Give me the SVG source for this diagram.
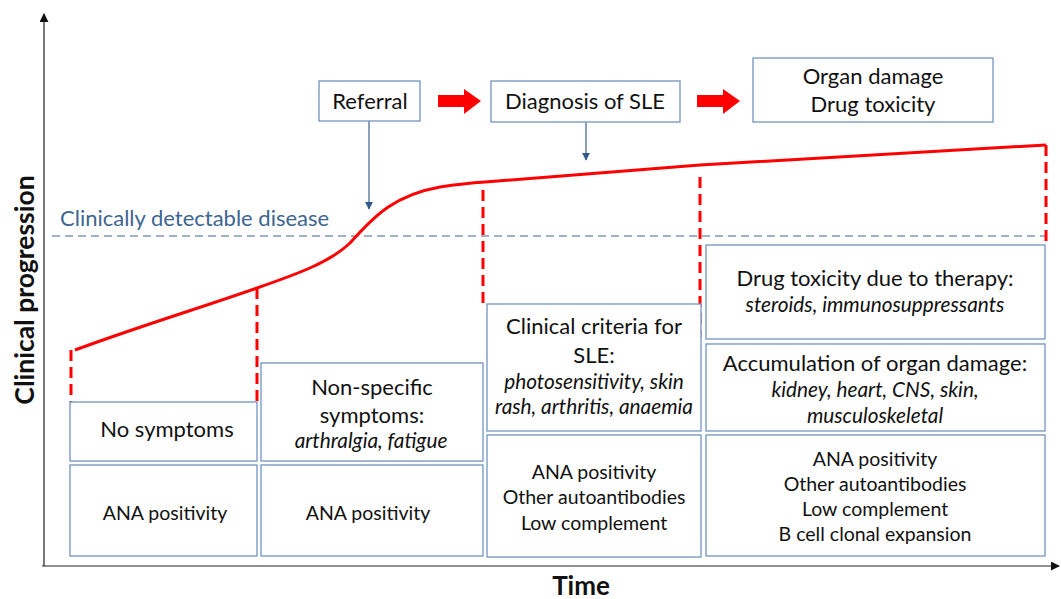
<svg xmlns="http://www.w3.org/2000/svg" width="1061" height="599" viewBox="0 0 1061 599">
<style>
.box{fill:#fff;stroke:#7294bf;stroke-width:1.3}
.t{font-family:Lato,"Liberation Sans",sans-serif;fill:#111;text-anchor:middle}
.big{font-size:22px}
.sm{font-size:19.5px}
.it{font-style:italic;font-size:20.8px}
.rd{stroke:#ff0000;stroke-width:3;stroke-dasharray:11,6;fill:none}
.ptr{stroke:#3c6391;stroke-width:1.2;fill:none;marker-end:url(#ah)}
</style>
<defs>
<marker id="ah" viewBox="0 0 10 10" refX="9" refY="5" markerWidth="8" markerHeight="8" markerUnits="userSpaceOnUse" orient="auto"><path d="M0,0 L10,5 L0,10 z" fill="#2f5a88"/></marker>
<marker id="axh" viewBox="0 0 10 10" refX="9" refY="5" markerWidth="9" markerHeight="9" markerUnits="userSpaceOnUse" orient="auto"><path d="M0,0 L10,5 L0,10 z" fill="#111"/></marker>
</defs>
<rect width="1061" height="599" fill="#fff"/>
<g id="axes">
<line x1="44" y1="566" x2="44" y2="14" stroke="#222" stroke-width="1.2" marker-end="url(#axh)"/>
<line x1="42" y1="566" x2="1059" y2="566" stroke="#222" stroke-width="1.2" marker-end="url(#axh)"/>
<text class="t" transform="translate(34,290) rotate(-90)" style="font-size:26.5px;font-weight:bold">Clinical progression</text>
<text class="t" x="581" y="595" style="font-size:26px;font-weight:bold">Time</text>
</g>
<g id="threshold">
<line x1="52" y1="236" x2="1046" y2="236" stroke="#44648c" stroke-width="1.2" stroke-dasharray="8,5"/>
<text x="60" y="226" style="font-family:Lato,'Liberation Sans',sans-serif;font-size:22px;fill:#3d6591">Clinically detectable disease</text>
</g>
<g id="connectors">
<path d="M75,350 C140,326 200,308 257,288 C300,273 330,262 350,243 C375,215 395,195 440,187 C460,184 470,183 485,182 L700,165 L1046,145" fill="none" stroke="#ff0000" stroke-width="3"/>
<line class="rd" x1="71" y1="350" x2="71" y2="402"/>
<line class="rd" x1="257" y1="288" x2="257" y2="402"/>
<line class="rd" x1="483" y1="190" x2="483" y2="304"/>
<line class="rd" x1="700" y1="177" x2="700" y2="337"/>
<line class="rd" x1="1046" y1="145" x2="1046" y2="242"/>
<line class="ptr" x1="369" y1="121" x2="369" y2="209"/>
<line class="ptr" x1="586" y1="122" x2="586" y2="160"/>
<path d="M438,95 L464,95 L464,89 L481,101 L464,114 L464,107 L438,107 z" fill="#ff0000"/>
<path d="M697,95 L723,95 L723,89 L740,101 L723,114 L723,107 L697,107 z" fill="#ff0000"/>
</g>
<g id="referral">
<rect class="box" x="319" y="81" width="101" height="40"/>
<text class="t big" x="370" y="109">Referral</text>
</g>
<g id="diagnosis">
<rect class="box" x="491" y="81" width="189" height="41"/>
<text class="t big" x="585" y="109">Diagnosis of SLE</text>
</g>
<g id="organ-damage">
<rect class="box" x="753" y="58" width="240" height="64"/>
<text class="t big" x="873" y="84">Organ damage</text>
<text class="t big" x="873" y="112">Drug toxicity</text>
</g>
<g id="no-symptoms">
<rect class="box" x="70" y="402" width="187" height="59"/>
<text class="t big" x="167" y="437">No symptoms</text>
</g>
<g id="ana1">
<rect class="box" x="70" y="465" width="187" height="91"/>
<text class="t sm" x="165" y="520">ANA positivity</text>
</g>
<g id="non-specific">
<rect class="box" x="261" y="363" width="222" height="98"/>
<text class="t big" x="372" y="395">Non-specific</text>
<text class="t big" x="372" y="423">symptoms:</text>
<text class="t it" x="371" y="448">arthralgia, fatigue</text>
</g>
<g id="ana2">
<rect class="box" x="261" y="465" width="222" height="91"/>
<text class="t sm" x="368" y="520">ANA positivity</text>
</g>
<g id="clinical-criteria">
<rect class="box" x="487" y="304" width="214" height="127"/>
<text class="t big" x="594" y="334">Clinical criteria for</text>
<text class="t big" x="594" y="363">SLE:</text>
<text class="t it" x="594" y="389">photosensitivity, skin</text>
<text class="t it" x="594" y="414">rash, arthritis, anaemia</text>
</g>
<g id="ana3">
<rect class="box" x="487" y="435" width="214" height="122"/>
<text class="t sm" x="594" y="479">ANA positivity</text>
<text class="t sm" x="594" y="504">Other autoantibodies</text>
<text class="t sm" x="594" y="530">Low complement</text>
</g>
<g id="drug-toxicity">
<rect class="box" x="706" y="245" width="339" height="94"/>
<text class="t big" x="875" y="286">Drug toxicity due to therapy:</text>
<text class="t it" x="875" y="312">steroids, immunosuppressants</text>
</g>
<g id="accumulation">
<rect class="box" x="706" y="344" width="339" height="87"/>
<text class="t big" x="875" y="371">Accumulation of organ damage:</text>
<text class="t it" x="875" y="397">kidney, heart, CNS, skin,</text>
<text class="t it" x="875" y="423">musculoskeletal</text>
</g>
<g id="ana4">
<rect class="box" x="706" y="435" width="339" height="121"/>
<text class="t sm" x="875" y="466">ANA positivity</text>
<text class="t sm" x="875" y="491">Other autoantibodies</text>
<text class="t sm" x="875" y="516">Low complement</text>
<text class="t sm" x="875" y="541">B cell clonal expansion</text>
</g>
</svg>
